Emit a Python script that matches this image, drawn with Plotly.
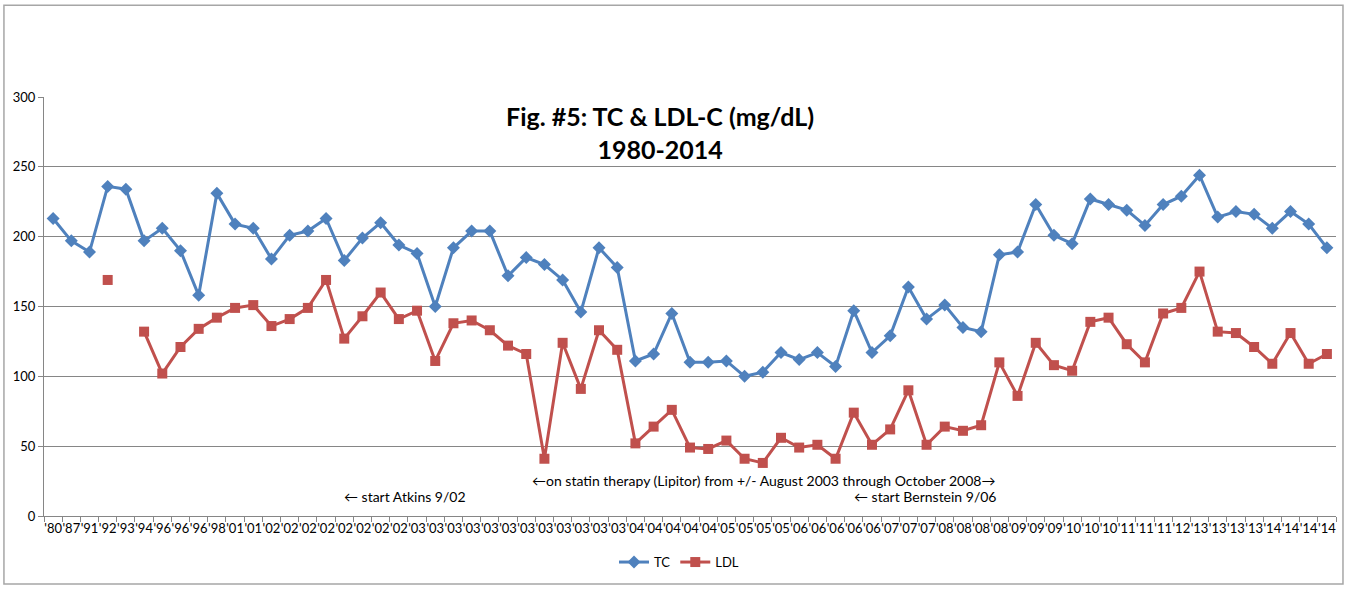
import plotly.graph_objects as go

# x labels (two-digit year of each lab test)
year_labels = ["'80", "'87", "'91", "'92", "'93", "'94", "'96", "'96", "'96", "'98",
               "'01", "'01", "'02", "'02", "'02", "'02", "'02", "'02", "'02", "'02",
               "'03", "'03", "'03", "'03", "'03", "'03", "'03", "'03", "'03", "'03",
               "'03", "'03", "'04", "'04", "'04", "'04", "'04", "'05", "'05", "'05",
               "'05", "'06", "'06", "'06", "'06", "'06", "'07", "'07", "'07", "'08",
               "'08", "'08", "'08", "'09", "'09", "'09", "'10", "'10", "'10", "'11",
               "'11", "'11", "'12", "'13", "'13", "'13", "'13", "'14", "'14", "'14",
               "'14"]

tc = [213, 197, 189, 236, 234, 197, 206, 190, 158, 231,
      209, 206, 184, 201, 204, 213, 183, 199, 210, 194,
      188, 150, 192, 204, 204, 172, 185, 180, 169, 146,
      192, 178, 111, 116, 145, 110, 110, 111, 100, 103,
      117, 112, 117, 107, 147, 117, 129, 164, 141, 151,
      135, 132, 187, 189, 223, 201, 195, 227, 223, 219,
      208, 223, 229, 244, 214, 218, 216, 206, 218, 209,
      192]

ldl = [None, None, None, 169, None, 132, 102, 121, 134, 142,
       149, 151, 136, 141, 149, 169, 127, 143, 160, 141,
       147, 111, 138, 140, 133, 122, 116, 41, 124, 91,
       133, 119, 52, 64, 76, 49, 48, 54, 41, 38,
       56, 49, 51, 41, 74, 51, 62, 90, 51, 64,
       61, 65, 110, 86, 124, 108, 104, 139, 142, 123,
       110, 145, 149, 175, 132, 131, 121, 109, 131, 109,
       116]

x = list(range(1, len(year_labels) + 1))

blue = "#4F81BD"
red = "#C0504D"
grid = "#868686"

fig = go.Figure()
fig.add_trace(go.Scatter(x=x, y=tc, name="TC", mode="lines+markers",
                         line=dict(color=blue, width=3),
                         marker=dict(symbol="diamond", size=10, color=blue)))
fig.add_trace(go.Scatter(x=x, y=ldl, name="LDL", mode="lines+markers",
                         connectgaps=False,
                         line=dict(color=red, width=3),
                         marker=dict(symbol="square", size=10, color=red)))

tick_font = dict(family="Lato, Calibri, sans-serif", size=13, color="#000000")
note_font = dict(family="Lato, Calibri, sans-serif", size=14, color="#000000")

fig.update_layout(
    width=1355, height=590,
    paper_bgcolor="white", plot_bgcolor="white",
    margin=dict(l=44, r=19, t=97, b=74),
    showlegend=True,
    legend=dict(orientation="h", x=0.4915, y=-0.11, xanchor="center", yanchor="middle",
                font=dict(family="Lato, Calibri, sans-serif", size=13, color="#000000"),
                itemwidth=30, tracegroupgap=0),
    xaxis=dict(range=[0.5, len(x) + 0.5], tickmode="array", tickvals=x,
               ticktext=year_labels, tickangle=0, ticks="", ticklen=0,
               showgrid=False, zeroline=False, showline=True, linecolor=grid,
               linewidth=1, tickfont=tick_font,
               minor=dict(tickmode="array", tickvals=[v + 0.5 for v in range(0, len(x) + 1)],
                          ticks="outside", ticklen=5, tickcolor=grid, showgrid=False)),
    yaxis=dict(range=[0, 300], dtick=50, ticks="outside", ticklen=5, tickcolor=grid,
               showgrid=True, gridcolor=grid, gridwidth=1, zeroline=False,
               showline=True, linecolor=grid, linewidth=1, tickfont=tick_font),
)

fig.add_annotation(text="<b>Fig. #5: TC & LDL-C (mg/dL)</b><br><b>1980-2014</b>",
                   xref="paper", yref="paper", x=0.477, y=0.995, xanchor="center",
                   yanchor="top", showarrow=False,
                   font=dict(family="Lato, Calibri, sans-serif", size=25, color="#000000"))
fig.add_annotation(text="\u2190on statin therapy (Lipitor) from +/- August 2003 through October 2008\u2192",
                   x=27.2, y=25.5, xanchor="left", yanchor="middle", showarrow=False,
                   font=note_font)
fig.add_annotation(text="\u2190 start Atkins 9/02", x=16.9, y=13.8, xanchor="left",
                   yanchor="middle", showarrow=False, font=note_font)
fig.add_annotation(text="\u2190 start Bernstein 9/06", x=44.9, y=13.8, xanchor="left",
                   yanchor="middle", showarrow=False, font=note_font)

# chart frame
fig.add_shape(type="rect", xref="paper", yref="paper",
              x0=-0.031, x1=1.0054, y0=-0.162, y1=1.219,
              line=dict(color="#a6a6a6", width=1.5))

fig.write_html("out.html", config={"displayModeBar": False},
               post_script="document.body.style.margin='0';")
